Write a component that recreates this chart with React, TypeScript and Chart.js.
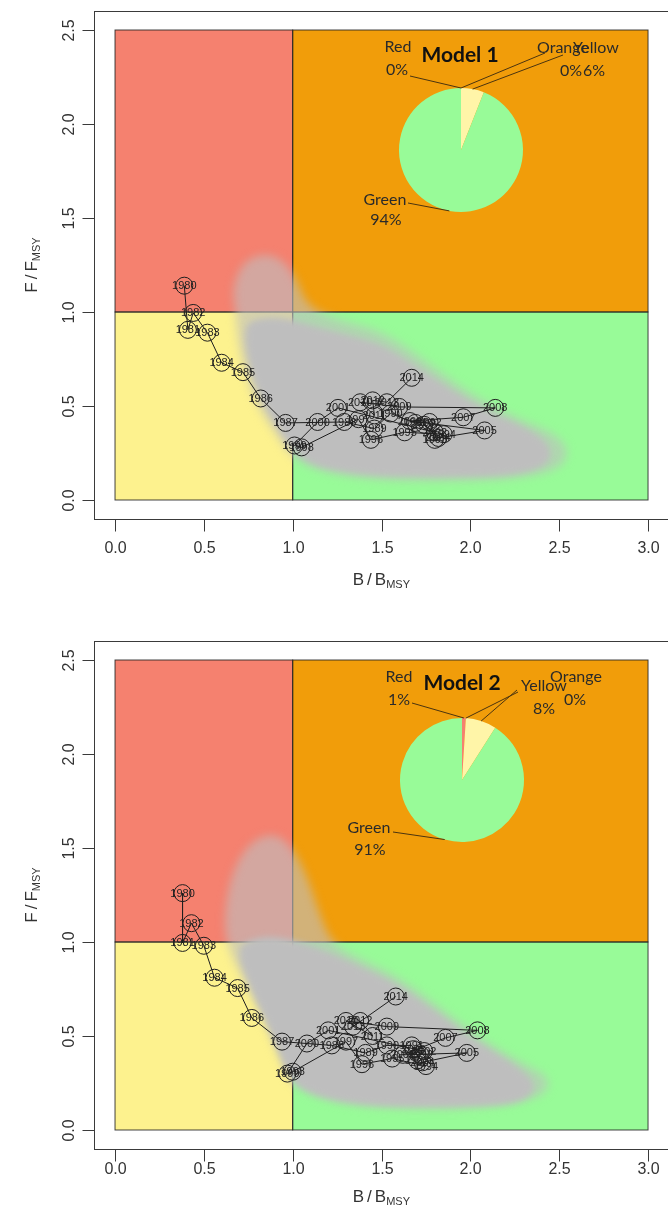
import React, { useEffect, useRef } from "react";
import { Chart, registerables } from "chart.js";

Chart.register(...registerables);

// ---------------- data ----------------
const years = [
  1980, 1981, 1982, 1983, 1984, 1985, 1986, 1987, 1988, 1989,
  1990, 1991, 1992, 1993, 1994, 1995, 1996, 1997, 1998, 1999,
  2000, 2001, 2002, 2003, 2004, 2005, 2006, 2007, 2008, 2009,
  2010, 2011, 2012, 2013, 2014,
];

// Model 1 trajectory (B/Bmsy, F/Fmsy)
const traj1B = [
  0.39, 0.41, 0.44, 0.52, 0.6, 0.72, 0.82, 0.96, 1.29, 1.46,
  1.55, 1.69, 1.77, 1.8, 1.85, 1.63, 1.44, 1.37, 1.05, 1.01,
  1.14, 1.255, 1.8, 1.74, 1.82, 2.08, 1.66, 1.96, 2.14, 1.6,
  1.38, 1.46, 1.45, 1.53, 1.67,
];
const traj1F = [
  1.14, 0.905, 0.995, 0.89, 0.73, 0.68, 0.54, 0.41, 0.415, 0.38,
  0.46, 0.41, 0.415, 0.32, 0.35, 0.36, 0.32, 0.43, 0.28, 0.29,
  0.415, 0.49, 0.36, 0.4, 0.33, 0.37, 0.42, 0.44, 0.49, 0.495,
  0.52, 0.45, 0.53, 0.52, 0.65,
];

// Model 2 trajectory
const traj2B = [
  0.38, 0.38, 0.43, 0.5, 0.56, 0.69, 0.77, 0.94, 1.22, 1.41,
  1.53, 1.67, 1.72, 1.7, 1.75, 1.56, 1.39, 1.3, 1.0, 0.97,
  1.08, 1.2, 1.74, 1.68, 1.73, 1.98, 1.62, 1.86, 2.04, 1.53,
  1.3, 1.45, 1.38, 1.34, 1.58,
];
const traj2F = [
  1.26, 0.995, 1.1, 0.98, 0.81, 0.755, 0.596, 0.47, 0.45, 0.41,
  0.45, 0.45, 0.4, 0.37, 0.34, 0.38, 0.35, 0.47, 0.31, 0.3,
  0.46, 0.53, 0.42, 0.43, 0.36, 0.41, 0.4, 0.49, 0.53, 0.55,
  0.58, 0.5, 0.58, 0.55, 0.71,
];

// Uncertainty cloud outlines (sparse outer region and dense core)
const cloud1B = [0.68, 0.66, 0.71, 0.81, 0.93, 1.02, 1.08, 1.25, 1.5, 1.72, 1.93, 2.12, 2.3, 2.48, 2.56, 2.5, 2.25, 1.8, 1.4, 1.12, 0.98, 0.9, 0.8, 0.73, 0.69];
const cloud1F = [1.0, 1.12, 1.25, 1.31, 1.29, 1.18, 1.03, 0.96, 0.9, 0.76, 0.61, 0.5, 0.42, 0.35, 0.26, 0.16, 0.11, 0.1, 0.11, 0.16, 0.24, 0.36, 0.5, 0.68, 0.85];
const core1B = [0.72, 0.82, 0.95, 1.1, 1.3, 1.5, 1.7, 1.9, 2.1, 2.3, 2.45, 2.45, 2.25, 1.8, 1.4, 1.12, 1.0, 0.92, 0.83, 0.76];
const core1F = [0.93, 0.97, 0.97, 0.93, 0.88, 0.83, 0.71, 0.58, 0.47, 0.39, 0.3, 0.19, 0.13, 0.12, 0.13, 0.18, 0.26, 0.38, 0.52, 0.69];

const cloud2B = [0.62, 0.62, 0.67, 0.77, 0.9, 1.0, 1.08, 1.15, 1.22, 1.4, 1.6, 1.83, 2.05, 2.28, 2.45, 2.42, 2.15, 1.7, 1.3, 1.05, 0.96, 0.87, 0.72];
const cloud2F = [1.0, 1.2, 1.4, 1.54, 1.58, 1.5, 1.35, 1.15, 0.99, 0.9, 0.81, 0.65, 0.49, 0.36, 0.28, 0.18, 0.12, 0.11, 0.13, 0.2, 0.29, 0.52, 0.8];
const core2B = [0.68, 0.78, 0.9, 1.05, 1.22, 1.4, 1.6, 1.83, 2.05, 2.26, 2.38, 2.3, 2.1, 1.7, 1.3, 1.05, 0.97, 0.88, 0.75];
const core2F = [0.97, 1.02, 1.03, 1.0, 0.94, 0.86, 0.77, 0.61, 0.46, 0.34, 0.24, 0.15, 0.13, 0.12, 0.14, 0.21, 0.3, 0.52, 0.78];

// Kobe quadrant limits
const quadB = [0, 1, 3];
const quadF = [0, 1, 2.5];

// Axis ticks
const xTicks = [0, 0.5, 1, 1.5, 2, 2.5, 3];
const yTicks = [0, 0.5, 1, 1.5, 2, 2.5];

// Pie summaries
const pieLabels = ["Red", "Orange", "Yellow", "Green"];
const pie1Values = [0, 0, 6, 94];
const pie2Values = [1, 0, 8, 91];
const modelTitles = ["Model 1", "Model 2"];

// ---------------- styles / layout ----------------
const W = 668;
const PANEL_H = 614;
const FRAME_LEFT = 93.7;
const PX_PER_B = 177.67;
const X_MIN = -0.12;
const X_MAX = X_MIN + (W - FRAME_LEFT) / PX_PER_B;
const Y_MIN = -0.1;
const Y_MAX = 2.6;

const COL = {
  red: "#F5816F",
  orange: "#F19D0A",
  yellow: "#FDF28E",
  green: "#98FB98",
  gray: "#BEBEBE",
  pieYellow: "#FFF5A8",
};

const AXIS_FONT = '"Liberation Sans", Arial, sans-serif';
const PIE_FONT = 'Lato, "Open Sans", sans-serif';

type Pt = [number, number];
interface PieLabelPos { name: Pt; pct: Pt; line: Pt }

interface PanelCfg {
  pageTop: number;
  frameTop: number;
  frameBottom: number;
  xLabelY: number;
  xTitleY: number;
  trajB: number[];
  trajF: number[];
  cloudB: number[];
  cloudF: number[];
  coreB: number[];
  coreF: number[];
  pieValues: number[];
  title: string;
  pieCenter: Pt;
  pieOrigin: Pt;
  titlePos: Pt;
  labelPos: PieLabelPos[];
}

const panels: PanelCfg[] = [
  {
    pageTop: 0,
    frameTop: 11.2,
    frameBottom: 518.8,
    xLabelY: 549,
    xTitleY: 579,
    trajB: traj1B,
    trajF: traj1F,
    cloudB: cloud1B,
    cloudF: cloud1F,
    coreB: core1B,
    coreF: core1F,
    pieValues: pie1Values,
    title: modelTitles[0],
    pieCenter: [461, 150],
    pieOrigin: [340, 10],
    titlePos: [460, 55],
    labelPos: [
      { name: [398, 47], pct: [397, 70], line: [410, 76] },
      { name: [563, 48], pct: [571, 71], line: [545, 53] },
      { name: [596, 48], pct: [594, 71], line: [563, 55] },
      { name: [385, 200], pct: [386, 220], line: [408, 203] },
    ],
  },
  {
    pageTop: PANEL_H,
    frameTop: 27.2,
    frameBottom: 534.8,
    xLabelY: 556,
    xTitleY: 582,
    trajB: traj2B,
    trajF: traj2F,
    cloudB: cloud2B,
    cloudF: cloud2F,
    coreB: core2B,
    coreF: core2F,
    pieValues: pie2Values,
    title: modelTitles[1],
    pieCenter: [462, 780],
    pieOrigin: [340, 640],
    titlePos: [462, 683],
    labelPos: [
      { name: [399, 677], pct: [399, 700], line: [412, 703] },
      { name: [576, 677], pct: [575, 700], line: [518, 692] },
      { name: [544, 686], pct: [544, 709], line: [517, 690] },
      { name: [369, 828], pct: [370, 850], line: [393, 832] },
    ],
  },
];

const PIE_W = 328;
const PIE_H = 240;
const PIE_R = 62;

// ---------------- helpers ----------------
function polyPath(ctx: CanvasRenderingContext2D, sx: any, sy: any, xs: number[], ys: number[]) {
  ctx.beginPath();
  const pts = xs.map((b, i) => [sx.getPixelForValue(b), sy.getPixelForValue(ys[i])]);
  const n = pts.length;
  const mid = (a: number[], b: number[]) => [(a[0] + b[0]) / 2, (a[1] + b[1]) / 2];
  const m0 = mid(pts[n - 1], pts[0]);
  ctx.moveTo(m0[0], m0[1]);
  for (let i = 0; i < n; i++) {
    const p = pts[i];
    const m = mid(p, pts[(i + 1) % n]);
    ctx.quadraticCurveTo(p[0], p[1], m[0], m[1]);
  }
  ctx.closePath();
}

function drawRatioTitle(ctx: CanvasRenderingContext2D, cx: number, cy: number, main: string, sub: string) {
  const big = `17px ${AXIS_FONT}`;
  const small = `11px ${AXIS_FONT}`;
  ctx.font = big;
  const wMain = ctx.measureText(main).width;
  const wSlash = ctx.measureText("/").width;
  const gap = 3;
  ctx.font = small;
  const wSub = ctx.measureText(sub).width;
  const total = wMain + gap + wSlash + gap + wMain + wSub;
  let x = cx - total / 2;
  ctx.textAlign = "left";
  ctx.textBaseline = "alphabetic";
  const base = cy + 6;
  ctx.font = big;
  ctx.fillText(main, x, base);
  x += wMain + gap;
  ctx.fillText("/", x, base);
  x += wSlash + gap;
  ctx.fillText(main, x, base);
  x += wMain;
  ctx.font = small;
  ctx.fillText(sub, x, base + 3);
}

function makeBackgroundPlugin(p: PanelCfg) {
  return {
    id: "kobeBackground",
    beforeDatasetsDraw(chart: any) {
      const { ctx, scales } = chart;
      const sx = scales.x;
      const sy = scales.y;
      const X = (v: number) => sx.getPixelForValue(v);
      const Y = (v: number) => sy.getPixelForValue(v);
      const quads = [
        { b0: quadB[0], b1: quadB[1], f0: quadF[1], f1: quadF[2], c: COL.red },
        { b0: quadB[1], b1: quadB[2], f0: quadF[1], f1: quadF[2], c: COL.orange },
        { b0: quadB[0], b1: quadB[1], f0: quadF[0], f1: quadF[1], c: COL.yellow },
        { b0: quadB[1], b1: quadB[2], f0: quadF[0], f1: quadF[1], c: COL.green },
      ];
      ctx.save();
      quads.forEach((q) => {
        ctx.fillStyle = q.c;
        ctx.fillRect(X(q.b0), Y(q.f1), X(q.b1) - X(q.b0), Y(q.f0) - Y(q.f1));
      });
      // quadrant borders (under the cloud, so the dense core hides them)
      ctx.strokeStyle = "rgba(35,35,35,0.85)";
      ctx.lineWidth = 1;
      quads.forEach((q) => {
        ctx.strokeRect(X(q.b0), Y(q.f1), X(q.b1) - X(q.b0), Y(q.f0) - Y(q.f1));
      });

      // cloud, clipped to the Kobe area
      ctx.save();
      ctx.beginPath();
      ctx.rect(X(quadB[0]), Y(quadF[2]), X(quadB[2]) - X(quadB[0]), Y(quadF[0]) - Y(quadF[2]));
      ctx.clip();
      ctx.filter = "blur(5px)";
      ctx.fillStyle = "rgba(190,190,190,0.62)";
      polyPath(ctx, sx, sy, p.cloudB, p.cloudF);
      ctx.fill();
      ctx.filter = "blur(3px)";
      ctx.fillStyle = COL.gray;
      polyPath(ctx, sx, sy, p.coreB, p.coreF);
      ctx.fill();
      ctx.filter = "none";
      ctx.restore();
      ctx.restore();
    },
  };
}

const yearLabelPlugin = {
  id: "yearLabels",
  afterDatasetsDraw(chart: any) {
    const { ctx } = chart;
    const meta = chart.getDatasetMeta(0);
    ctx.save();
    ctx.font = `11px ${AXIS_FONT}`;
    ctx.fillStyle = "#222";
    ctx.textAlign = "center";
    ctx.textBaseline = "middle";
    meta.data.forEach((el: any, i: number) => {
      ctx.fillText(String(years[i]), el.x, el.y + 0.5);
    });
    ctx.restore();
  },
};

function makeAxesPlugin(p: PanelCfg) {
  return {
    id: "rAxes",
    afterDraw(chart: any) {
      const { ctx, chartArea, scales } = chart;
      const sx = scales.x;
      const sy = scales.y;
      const { left, top, right, bottom } = chartArea;
      ctx.save();
      ctx.strokeStyle = "#3a3a3a";
      ctx.lineWidth = 1;
      ctx.strokeRect(Math.round(left) + 0.5, Math.round(top) + 0.5, right - left + 6, Math.round(bottom) - Math.round(top));
      ctx.fillStyle = "#333";
      ctx.font = `16px ${AXIS_FONT}`;
      ctx.textAlign = "center";
      ctx.textBaseline = "middle";
      const b = Math.round(bottom) + 0.5;
      xTicks.forEach((t) => {
        const px = Math.round(sx.getPixelForValue(t)) + 0.5;
        ctx.beginPath();
        ctx.moveTo(px, b);
        ctx.lineTo(px, b + 12);
        ctx.stroke();
        ctx.fillText(t.toFixed(1), px, p.xLabelY);
      });
      const l = Math.round(left) + 0.5;
      yTicks.forEach((t) => {
        const py = Math.round(sy.getPixelForValue(t)) + 0.5;
        ctx.beginPath();
        ctx.moveTo(l, py);
        ctx.lineTo(l - 12, py);
        ctx.stroke();
        ctx.save();
        ctx.translate(l - 25, py);
        ctx.rotate(-Math.PI / 2);
        ctx.fillText(t.toFixed(1), 0, 0);
        ctx.restore();
      });
      drawRatioTitle(ctx, (left + right + 1) / 2, p.xTitleY, "B", "MSY");
      ctx.save();
      ctx.translate(31, (top + bottom) / 2);
      ctx.rotate(-Math.PI / 2);
      drawRatioTitle(ctx, 0, 0, "F", "MSY");
      ctx.restore();
      ctx.restore();
    },
  };
}

function makePieLabelPlugin(p: PanelCfg) {
  const ox = p.pieOrigin[0];
  const oy = p.pieOrigin[1];
  return {
    id: "pieLabels",
    afterDatasetsDraw(chart: any) {
      const { ctx } = chart;
      const meta = chart.getDatasetMeta(0);
      const values = chart.data.datasets[0].data as number[];
      ctx.save();
      ctx.strokeStyle = "#4a3410";
      ctx.lineWidth = 1;
      meta.data.forEach((arc: any, i: number) => {
        const mid = (arc.startAngle + arc.endAngle) / 2;
        const ex = arc.x + arc.outerRadius * Math.cos(mid);
        const ey = arc.y + arc.outerRadius * Math.sin(mid);
        const lp = p.labelPos[i];
        ctx.beginPath();
        ctx.moveTo(lp.line[0] - ox, lp.line[1] - oy);
        ctx.lineTo(ex, ey);
        ctx.stroke();
        ctx.fillStyle = "#2a2a2a";
        ctx.font = `16px ${PIE_FONT}`;
        ctx.textAlign = "center";
        ctx.textBaseline = "middle";
        ctx.fillText(pieLabels[i], lp.name[0] - ox, lp.name[1] - oy);
        ctx.fillText(`${values[i]}%`, lp.pct[0] - ox, lp.pct[1] - oy);
      });
      ctx.fillStyle = "#111";
      ctx.font = `bold 21px ${PIE_FONT}`;
      ctx.textAlign = "center";
      ctx.textBaseline = "middle";
      ctx.fillText(p.title, p.titlePos[0] - ox, p.titlePos[1] - oy);
      ctx.restore();
    },
  };
}

function makeMainChart(canvas: HTMLCanvasElement, p: PanelCfg) {
  return new Chart(canvas, {
    type: "scatter",
    data: {
      datasets: [
        {
          data: p.trajB.map((b, i) => ({ x: b, y: p.trajF[i] })),
          showLine: true,
          borderColor: "#1e1e1e",
          borderWidth: 1,
          pointRadius: 8.5,
          pointBackgroundColor: "rgba(0,0,0,0)",
          pointBorderColor: "#1e1e1e",
          pointBorderWidth: 1,
        },
      ],
    },
    options: {
      responsive: false,
      maintainAspectRatio: false,
      animation: false,
      events: [],
      layout: {
        autoPadding: false,
        padding: {
          left: FRAME_LEFT,
          right: 0,
          top: p.frameTop,
          bottom: PANEL_H - p.frameBottom,
        },
      },
      scales: {
        x: { type: "linear", min: X_MIN, max: X_MAX, display: false },
        y: { type: "linear", min: Y_MIN, max: Y_MAX, display: false },
      },
      plugins: { legend: { display: false }, tooltip: { enabled: false } },
    },
    plugins: [makeBackgroundPlugin(p), yearLabelPlugin, makeAxesPlugin(p)],
  } as any);
}

function makePieChart(canvas: HTMLCanvasElement, p: PanelCfg) {
  const left = p.pieCenter[0] - p.pieOrigin[0] - PIE_R;
  const top = p.pieCenter[1] - p.pieOrigin[1] - PIE_R;
  return new Chart(canvas, {
    type: "pie",
    data: {
      labels: pieLabels,
      datasets: [
        {
          data: p.pieValues,
          backgroundColor: [COL.red, COL.orange, COL.pieYellow, COL.green],
          borderWidth: 0,
        },
      ],
    },
    options: {
      responsive: false,
      maintainAspectRatio: false,
      animation: false,
      events: [],
      layout: {
        autoPadding: false,
        padding: {
          left,
          top,
          right: PIE_W - left - 2 * PIE_R,
          bottom: PIE_H - top - 2 * PIE_R,
        },
      },
      plugins: { legend: { display: false }, tooltip: { enabled: false } },
    },
    plugins: [makePieLabelPlugin(p)],
  } as any);
}

export default function App() {
  const main1 = useRef<HTMLCanvasElement>(null);
  const main2 = useRef<HTMLCanvasElement>(null);
  const pie1 = useRef<HTMLCanvasElement>(null);
  const pie2 = useRef<HTMLCanvasElement>(null);

  useEffect(() => {
    const charts: Chart[] = [];
    if (main1.current) charts.push(makeMainChart(main1.current, panels[0]));
    if (main2.current) charts.push(makeMainChart(main2.current, panels[1]));
    if (pie1.current) charts.push(makePieChart(pie1.current, panels[0]));
    if (pie2.current) charts.push(makePieChart(pie2.current, panels[1]));
    return () => charts.forEach((c) => c.destroy());
  }, []);

  const abs = (l: number, t: number, w: number, h: number): React.CSSProperties => ({
    position: "absolute",
    left: l,
    top: t,
    width: w,
    height: h,
    display: "block",
  });

  return (
    <div style={{ position: "absolute", left: 0, top: 0, width: W, height: 2 * PANEL_H, background: "#fff", overflow: "hidden" }}>
      <canvas ref={main1} width={W} height={PANEL_H} style={abs(0, panels[0].pageTop, W, PANEL_H)} />
      <canvas ref={main2} width={W} height={PANEL_H} style={abs(0, panels[1].pageTop, W, PANEL_H)} />
      <canvas ref={pie1} width={PIE_W} height={PIE_H} style={abs(panels[0].pieOrigin[0], panels[0].pieOrigin[1], PIE_W, PIE_H)} />
      <canvas ref={pie2} width={PIE_W} height={PIE_H} style={abs(panels[1].pieOrigin[0], panels[1].pieOrigin[1], PIE_W, PIE_H)} />
    </div>
  );
}
